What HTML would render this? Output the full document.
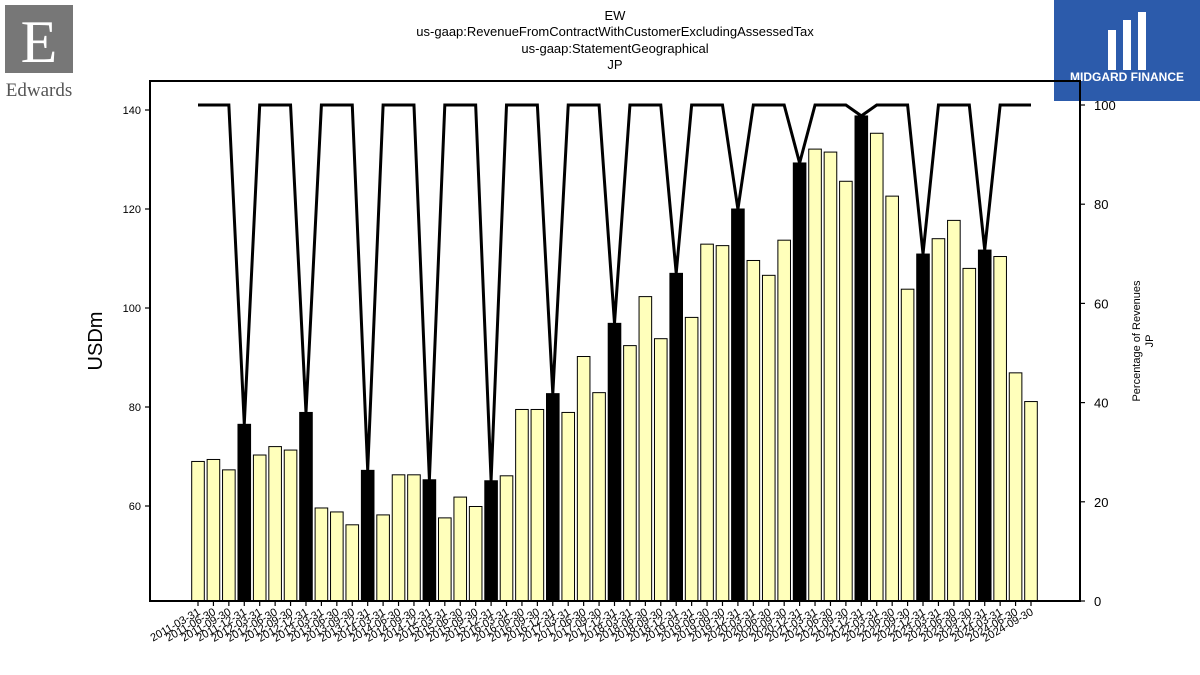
<!DOCTYPE html>
<html><head><meta charset="utf-8"><style>
body{margin:0;width:1200px;height:675px;overflow:hidden;background:#fff;font-family:"Liberation Sans","DejaVu Sans",sans-serif}
svg{position:absolute;left:0;top:0}
</style></head><body>
<svg id="c" width="1200" height="675" xmlns="http://www.w3.org/2000/svg">
<g>
<rect x="5" y="5" width="68" height="68" fill="#777"/>
<text x="39" y="62" font-family="Liberation Serif,serif" font-size="60" fill="#fff" text-anchor="middle">E</text>
<text x="39" y="96" font-family="Liberation Serif,serif" font-size="19" fill="#555" text-anchor="middle">Edwards</text>
</g>
<g>
<rect x="1054" y="0" width="146" height="101" fill="#2c5bab"/>
<rect x="1108" y="30" width="8" height="40" fill="#fff"/><rect x="1123" y="20" width="8" height="50" fill="#fff"/><rect x="1138" y="12" width="8" height="58" fill="#fff"/>
<text x="1127" y="81" font-size="12" font-weight="bold" fill="#fff" text-anchor="middle">MIDGARD FINANCE</text>
</g>
<g font-size="13" text-anchor="middle" fill="#000">
<text x="615" y="20">EW</text>
<text x="615" y="36">us-gaap:RevenueFromContractWithCustomerExcludingAssessedTax</text>
<text x="615" y="53">us-gaap:StatementGeographical</text>
<text x="615" y="69">JP</text>
</g>
<text x="0" y="0" font-size="20" text-anchor="middle" transform="translate(102,341) rotate(-90)">USDm</text>
<text font-size="11" text-anchor="middle" transform="translate(1140,341) rotate(-90)"><tspan x="0" y="0">Percentage of Revenues</tspan><tspan x="0" y="13">JP</tspan></text>
<g id="bars"></g><g id="line"></g><g id="axes"></g>
</svg>
<script>
const categories=[];
for(let y=2011;y<=2024;y++){for(const q of ['03-31','06-30','09-30','12-31']){categories.push(y+'-'+q);}}
categories.splice(55);
const revenue=[69.0,69.4,67.3,76.5,70.3,72.0,71.3,78.9,59.6,58.8,56.2,67.2,58.2,66.3,66.3,65.3,57.6,61.8,59.9,65.1,66.1,79.5,79.5,82.7,78.9,90.2,82.9,96.9,92.4,102.3,93.8,107.0,98.1,112.9,112.6,120.0,109.6,106.6,113.7,129.3,132.1,131.5,125.6,138.8,135.3,122.6,103.8,110.9,114.0,117.7,108.0,111.7,110.4,86.9,81.1];
const q4pct=[35.7,38.0,26.4,24.5,24.3,41.8,56.0,66.1,79.0,88.3,97.8,70.0,70.8];
const pct=[];let k=0;
for(let i=0;i<revenue.length;i++){pct.push(i%4===3?q4pct[k++]:100);}
const leftTicks=[60,80,100,120,140];
const rightTicks=[0,20,40,60,80,100];
const NS='http://www.w3.org/2000/svg';
const X0=150,X1=1080,YT=81,YB=601;
const xs=i=>198+i*(1031-198)/54;
const yL=v=>506-(v-60)*4.95;
const yR=v=>601-v*4.96;
function mk(t,a,p){const e=document.createElementNS(NS,t);for(const k in a)e.setAttribute(k,a[k]);p.appendChild(e);return e;}
const bars=document.getElementById('bars');
revenue.forEach((v,i)=>{const y=yL(v);const b=mk('rect',{x:xs(i)-6.3,y:y,width:12.6,height:YB-y,fill:i%4===3?'#000':'#ffffbb',stroke:'#000','stroke-width':1},bars);

});
const lg=document.getElementById('line');
const pl=mk('polyline',{points:pct.map((v,i)=>xs(i)+','+yR(v)).join(' '),fill:'none',stroke:'#000','stroke-width':3},lg);


const ax=document.getElementById('axes');
const fr=mk('path',{d:`M${X0},${YT}H${X1}V${YB}H${X0}Z`,fill:'none',stroke:'#000','stroke-width':2},ax);


leftTicks.forEach(v=>{const y=yL(v);mk('line',{x1:X0-5,x2:X0,y1:y,y2:y,stroke:'#000','stroke-width':1.2},ax);
const t=mk('text',{x:X0-9,y:y+4,'font-size':11,'text-anchor':'end'},ax);t.textContent=v;

});
rightTicks.forEach(v=>{const y=yR(v);mk('line',{x1:X1,x2:X1+5,y1:y,y2:y,stroke:'#000','stroke-width':1.2},ax);
const t=mk('text',{x:X1+14,y:y+5,'font-size':13},ax);t.textContent=v;

});
categories.forEach((c,i)=>{const x=xs(i);mk('line',{x1:x,x2:x,y1:YB,y2:YB+5,stroke:'#000','stroke-width':1.2},ax);
const t=mk('text',{'font-size':11,'text-anchor':'end',transform:`translate(${x+3},${YB+13}) rotate(-30)`},ax);t.textContent=c;

});
</script>
</body></html>
